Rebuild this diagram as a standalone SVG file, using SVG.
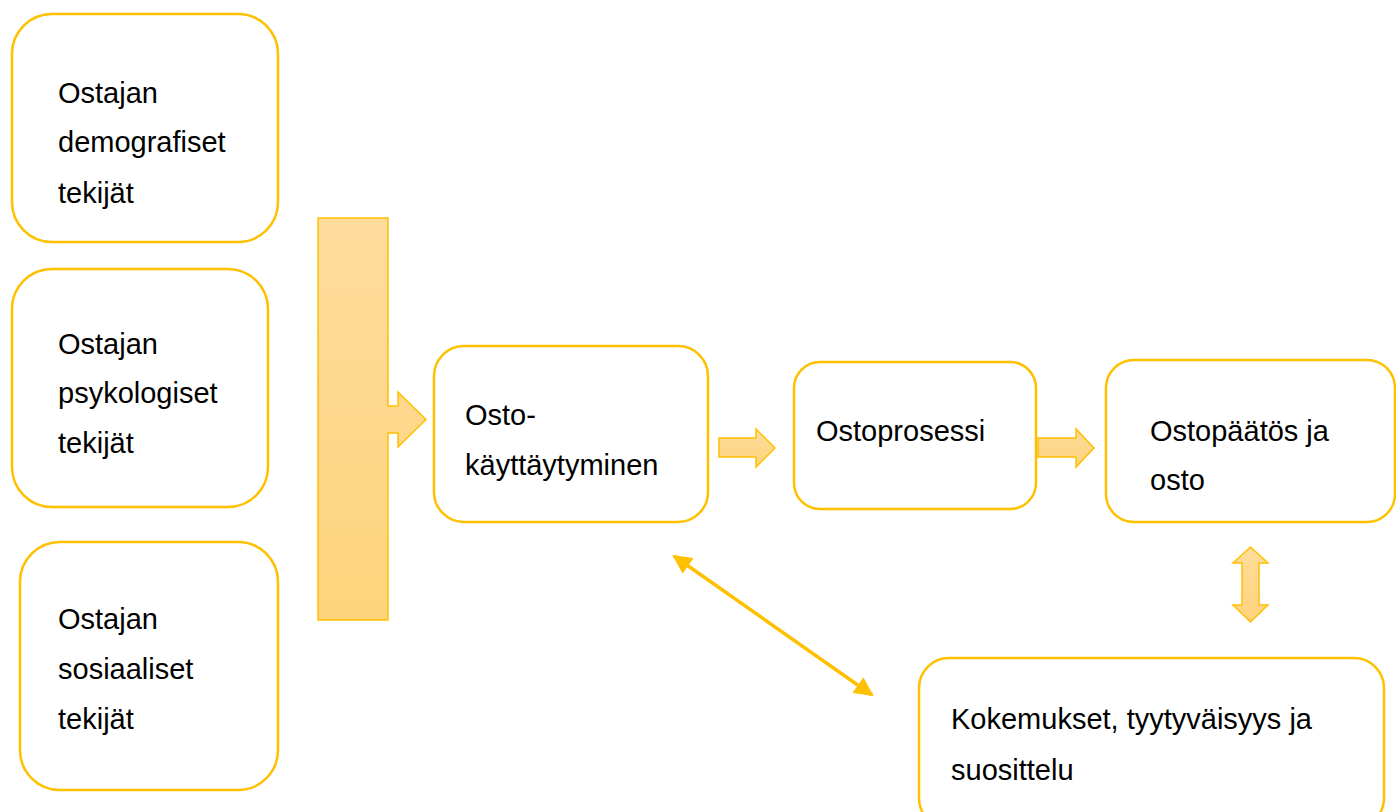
<svg xmlns="http://www.w3.org/2000/svg" width="1396" height="812" viewBox="0 0 1396 812">
<style>
.box{fill:#fff;stroke:#FFC000;stroke-width:2.5}
.t{font-family:"Liberation Sans",Arial,sans-serif;font-size:29px;fill:#000}
.blk{fill:url(#g);stroke:#FFC000;stroke-width:1.5}
</style>
<defs>
<linearGradient id="g" x1="0" y1="0" x2="0" y2="1">
<stop offset="0" stop-color="#FEDC9C"/>
<stop offset="1" stop-color="#FED37C"/>
</linearGradient>
<marker id="ah" viewBox="0 0 10 10" refX="9" refY="5" markerWidth="5.5" markerHeight="5.5" orient="auto-start-reverse">
<path d="M0,0 L10,5 L0,10 z" fill="#FFC000"/>
</marker>
</defs>
<rect width="1396" height="812" fill="#fff"/>
<g id="n1"><rect class="box" x="12" y="14" width="266" height="228" rx="40"/>
<text class="t" x="58" y="103">Ostajan</text><text class="t" x="58" y="152">demografiset</text><text class="t" x="58" y="203">tekijät</text></g>
<g id="n2"><rect class="box" x="12" y="269" width="256" height="238" rx="40"/>
<text class="t" x="58" y="354">Ostajan</text><text class="t" x="58" y="403">psykologiset</text><text class="t" x="58" y="453">tekijät</text></g>
<g id="n3"><rect class="box" x="20" y="542" width="258" height="248" rx="40"/>
<text class="t" x="58" y="629">Ostajan</text><text class="t" x="58" y="679">sosiaaliset</text><text class="t" x="58" y="729">tekijät</text></g>
<g id="n4"><rect class="box" x="434" y="346" width="274" height="176" rx="30"/>
<text class="t" x="465" y="425">Osto-</text><text class="t" x="465" y="475">käyttäytyminen</text></g>
<g id="n5"><rect class="box" x="794" y="362" width="242" height="147" rx="26"/>
<text class="t" x="816" y="441">Ostoprosessi</text></g>
<g id="n6"><rect class="box" x="1106" y="360" width="289" height="162" rx="28"/>
<text class="t" x="1150" y="441">Ostopäätös ja</text><text class="t" x="1150" y="490">osto</text></g>
<g id="n7"><rect class="box" x="919" y="658" width="465" height="170" rx="30"/>
<text class="t" x="951" y="729">Kokemukset, tyytyväisyys ja</text><text class="t" x="951" y="780">suosittelu</text></g>
<g id="connectors">
<path class="blk" d="M318,218 H388 V406 H398 V392 L426,419.5 L398,447 V433 H388 V620 H318 Z"/>
<path class="blk" d="M719,438 H756 V429 L775,448 L756,467 V457 H719 Z"/>
<path class="blk" d="M1038,438 H1076 V429 L1094,448 L1076,467 V457 H1038 Z"/>
<path class="blk" d="M1250.5,547 L1268,563 H1259 V605 H1268 L1250.5,622 L1233,605 H1242 V563 H1233 Z"/>
<line x1="674" y1="556" x2="872" y2="695" stroke="#FFC000" stroke-width="3.5" marker-start="url(#ah)" marker-end="url(#ah)"/>
</g>
</svg>
